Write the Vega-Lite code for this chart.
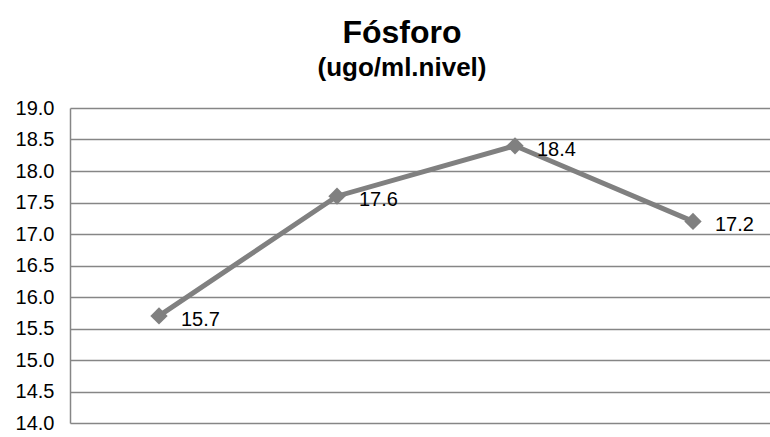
{
  "$schema": "https://vega.github.io/schema/vega-lite/v6.json",
  "width": 712,
  "height": 315,
  "autosize": {"type": "none"},
  "padding": {"left": 70, "top": 108, "right": 0, "bottom": 14},
  "background": "white",
  "title": {
    "text": "Fósforo",
    "subtitle": "(ugo/ml.nivel)",
    "font": "Liberation Sans",
    "fontSize": 32,
    "fontWeight": "bold",
    "color": "#000000",
    "subtitleFont": "Liberation Sans",
    "subtitleFontSize": 26,
    "subtitleFontWeight": "bold",
    "subtitleColor": "#000000",
    "subtitlePadding": 5,
    "anchor": "middle",
    "dx": -24,
    "offset": 16
  },
  "data": {
    "values": [
      {"nivel": "1", "valor": 15.7},
      {"nivel": "2", "valor": 17.6},
      {"nivel": "3", "valor": 18.4},
      {"nivel": "4", "valor": 17.2}
    ]
  },
  "encoding": {
    "x": {
      "field": "nivel",
      "type": "ordinal",
      "scale": {"type": "point", "padding": 0.5},
      "axis": null
    },
    "y": {
      "field": "valor",
      "type": "quantitative",
      "scale": {"domain": [14, 19], "nice": false, "zero": false},
      "axis": {
        "values": [14, 14.5, 15, 15.5, 16, 16.5, 17, 17.5, 18, 18.5, 19],
        "format": ".1f",
        "title": null,
        "labelFont": "Liberation Sans",
        "labelFontSize": 20,
        "labelColor": "#000000",
        "labelPadding": 16,
        "ticks": false,
        "domain": true,
        "domainColor": "#868686",
        "domainWidth": 1.5,
        "grid": true,
        "gridColor": "#868686",
        "gridWidth": 1.5
      }
    }
  },
  "layer": [
    {
      "mark": {"type": "line", "color": "#808080", "strokeWidth": 5}
    },
    {
      "mark": {"type": "point", "shape": "diamond", "filled": true, "size": 300, "color": "#808080", "opacity": 1}
    },
    {
      "mark": {"type": "text", "align": "left", "baseline": "middle", "dx": 22, "dy": 4, "font": "Liberation Sans", "fontSize": 20, "color": "#000000"},
      "encoding": {"text": {"field": "valor", "type": "quantitative", "format": ".1f"}}
    }
  ],
  "config": {"view": {"stroke": null}}
}
